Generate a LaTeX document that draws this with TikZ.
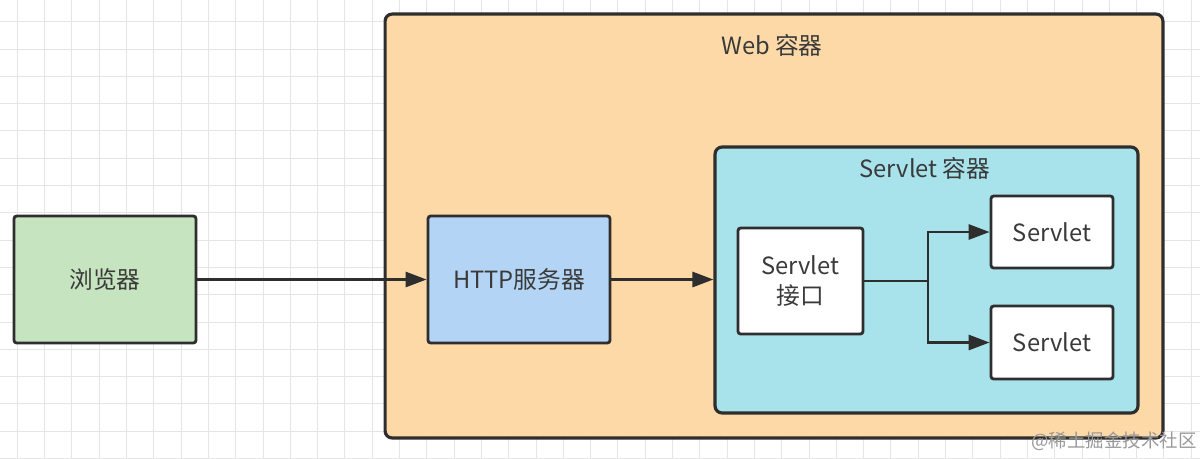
\documentclass[tikz,border=0pt]{standalone}
\usepackage{fontspec}
\setmainfont{Noto Sans CJK SC}
\usetikzlibrary{arrows.meta}
\definecolor{webfill}{HTML}{FDD9A8}
\definecolor{svcfill}{HTML}{A8E2EA}
\definecolor{brfill}{HTML}{C6E4BF}
\definecolor{httpfill}{HTML}{B4D4F5}
\definecolor{edge}{HTML}{2E2E2E}
\definecolor{txt}{HTML}{3A3A3A}
\begin{document}
\begin{tikzpicture}[x=0.02cm, y=-0.02cm, every node/.style={font=\fontsize{13.5}{17}\selectfont, text=txt},
  box/.style={draw=edge, line width=1.6pt, rounded corners=1.5pt, align=center, inner sep=0pt},
  frame/.style={draw=edge, line width=1.8pt, rounded corners=4pt, inner sep=0pt},
  link/.style={edge, line width=1.6pt, -{Triangle[length=0.42cm,width=0.3cm]}}]
  \useasboundingbox (0,0) rectangle (1200,458);
  % background grid
  \fill[white] (0,0) rectangle (1200,458);
  \foreach \i in {0,...,43} {
    \draw[black!10, line width=0.5pt] (17.3+27.3*\i,0) -- (17.3+27.3*\i,458);
  }
  \foreach \j in {-1,...,16} {
    \draw[black!10, line width=0.5pt] (0,21.7+27.3*\j) -- (1200,21.7+27.3*\j);
  }
  % containers
  \node[frame, fill=webfill, minimum width=15.56cm, minimum height=8.48cm] (web) at (774,226) {};
  \node (webtitle) at (772,45) {Web 容器};
  \node[frame, fill=svcfill, minimum width=8.46cm, minimum height=5.32cm] (svc) at (926.5,280) {};
  \node (svctitle) at (925,168) {Servlet 容器};
  % boxes
  \node[box, fill=brfill, minimum width=3.64cm, minimum height=2.54cm] (browser) at (105,279.5) {浏览器};
  \node[box, fill=httpfill, minimum width=3.64cm, minimum height=2.54cm] (http) at (519,279.5) {HTTP服务器};
  \node[box, fill=white, minimum width=2.5cm, minimum height=2.12cm] (iface) at (800.5,281) {Servlet\\接口};
  \node[box, fill=white, minimum width=2.44cm, minimum height=1.44cm] (s1) at (1052,232) {Servlet};
  \node[box, fill=white, minimum width=2.44cm, minimum height=1.46cm] (s2) at (1052,342.5) {Servlet};
  \coordinate (fork) at (928,281);
  % connectors
  \draw[link] (browser) -- (http);
  \draw[link] (http.east) -- (svc.west |- http.east);
  \draw[edge, line width=1.6pt] (iface) -- (fork);
  \draw[link] (fork) |- (s1);
  \draw[link] (fork) |- (s2);
  \node[text=black!40, font=\fontsize{10.5}{13}\selectfont] (mark) at (1114,441) {@稀土掘金技术社区};
\end{tikzpicture}
\end{document}
